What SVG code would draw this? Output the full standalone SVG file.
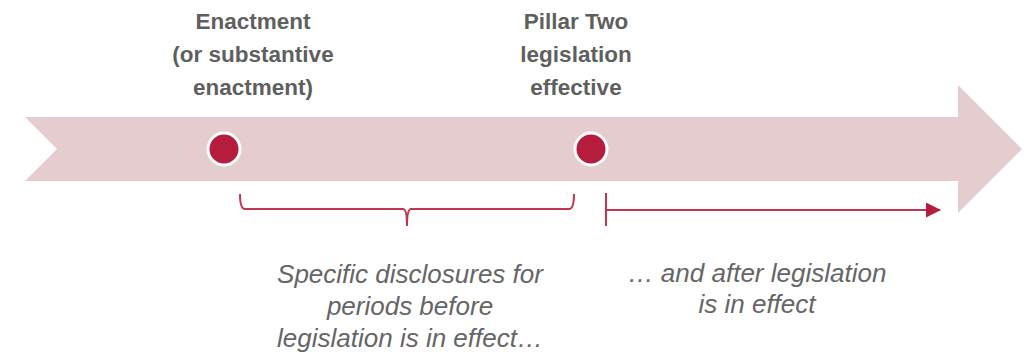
<svg xmlns="http://www.w3.org/2000/svg" width="1025" height="358" viewBox="0 0 1025 358">
<style>
.title{font-family:"Liberation Sans",Arial,sans-serif;font-weight:bold;font-size:22.5px;fill:#5f5f5f;text-anchor:middle}
.note{font-family:"Liberation Sans",Arial,sans-serif;font-style:italic;font-size:26px;fill:#666666;text-anchor:middle}
.dot{fill:#b41e3c;stroke:#ffffff;stroke-width:3}
.conn{fill:none;stroke:#c03550;stroke-width:2}
</style>
<defs>
<marker id="ah" markerWidth="15" markerHeight="15" refX="14" refY="7.5" orient="auto" markerUnits="userSpaceOnUse" viewBox="0 0 15 15">
<path d="M0,0 L15,7.5 L0,15 Z" fill="#b41e3c"/>
</marker>
</defs>
<g id="timeline">
<path d="M25,117 L958,117 L958,85 L1022,149 L958,213 L958,181 L25,181 L57,149 Z" fill="#e4cccf"/>
</g>
<g id="node-enactment">
<circle class="dot" cx="224" cy="149" r="16"/>
<text class="title" x="253" y="29">Enactment</text>
<text class="title" x="253" y="62">(or substantive</text>
<text class="title" x="253" y="95">enactment)</text>
</g>
<g id="node-effective">
<circle class="dot" cx="591" cy="149" r="16"/>
<text class="title" x="576" y="29">Pillar Two</text>
<text class="title" x="576" y="62">legislation</text>
<text class="title" x="576" y="95">effective</text>
</g>
<g id="connectors">
<path class="conn" d="M240,194 Q240,209 245,209 L403,209 Q407,209 407,226 Q407,209 411,209 L569,209 Q574,209 574,194"/>
<line class="conn" x1="606" y1="193" x2="606" y2="226"/>
<line class="conn" x1="606" y1="210" x2="940" y2="210" stroke-width="2.5" marker-end="url(#ah)"/>
</g>
<g id="note-before">
<text class="note" x="410" y="283">Specific disclosures for</text>
<text class="note" x="410" y="315">periods before</text>
<text class="note" x="410" y="347">legislation is in effect…</text>
</g>
<g id="note-after">
<text class="note" x="757" y="282">… and after legislation</text>
<text class="note" x="757" y="313">is in effect</text>
</g>
</svg>
